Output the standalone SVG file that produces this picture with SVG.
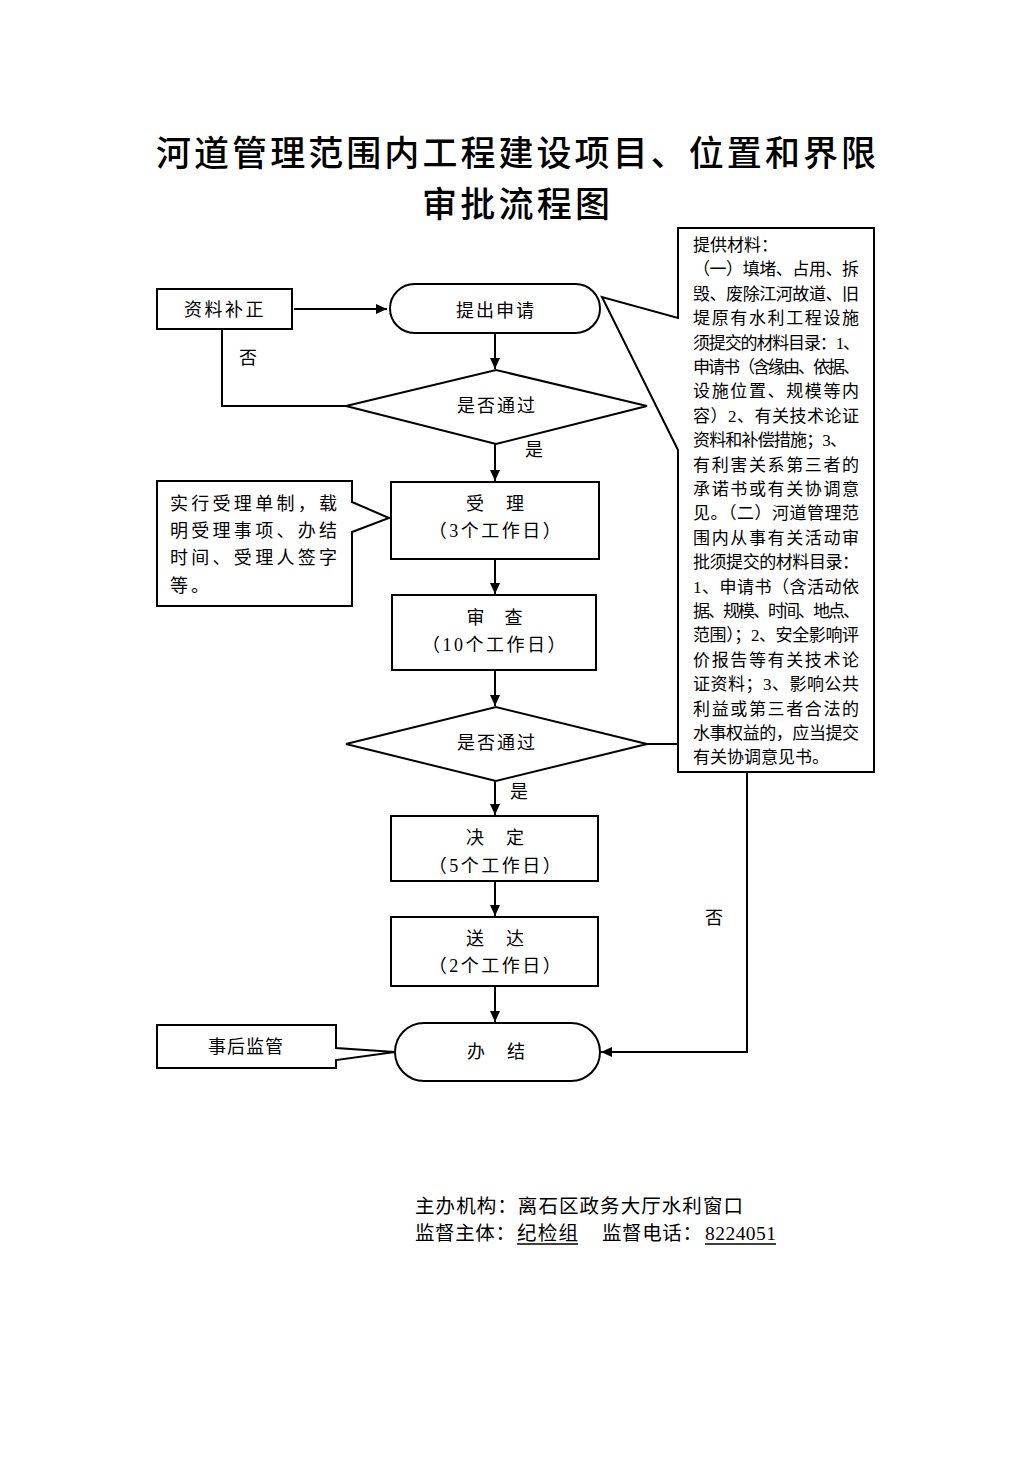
<svg xmlns="http://www.w3.org/2000/svg" width="1033" height="1461" viewBox="0 0 1033 1461">
<style>
.bg{fill:#fff}
.shape{fill:#fff;stroke:#000;stroke-width:2}
.conn{fill:none;stroke:#000;stroke-width:2}
.t{font-family:"Liberation Serif","Noto Sans CJK SC",serif;font-size:18px;fill:#000}
.c{text-anchor:middle}
.title{font-family:"Noto Sans CJK SC","Noto Sans",sans-serif;font-size:35px;font-weight:500;text-anchor:middle;fill:#000}
.m{font-family:"Liberation Serif","Noto Sans CJK SC",serif;font-size:17px;fill:#000}
.f{font-family:"Liberation Serif","Noto Sans CJK SC",serif;font-size:19.5px;fill:#000}
</style>
<defs>
<marker id="arr" markerUnits="userSpaceOnUse" markerWidth="12" markerHeight="10" refX="11" refY="5" orient="auto">
<path d="M0,0 L11,5 L0,10 Z" fill="#000"/>
</marker>
</defs>
<rect class="bg" x="0" y="0" width="1033" height="1461"/>
<g id="title">
<text class="title" x="516" y="166" textLength="720" lengthAdjust="spacing">河道管理范围内工程建设项目、位置和界限</text>
<text class="title" x="516" y="217" textLength="188" lengthAdjust="spacing">审批流程图</text>
</g>
<g id="connectors">
<path class="conn" d="M294,309 H387" marker-end="url(#arr)"/>
<path class="conn" d="M495,333 V369" marker-end="url(#arr)"/>
<path class="conn" d="M346,406 H222 V330"/>
<path class="conn" d="M495,444 V481" marker-end="url(#arr)"/>
<path class="conn" d="M495,559 V594" marker-end="url(#arr)"/>
<path class="conn" d="M495,670 V706" marker-end="url(#arr)"/>
<path class="conn" d="M495,781 V815" marker-end="url(#arr)"/>
<path class="conn" d="M495,881 V916" marker-end="url(#arr)"/>
<path class="conn" d="M495,986 V1022" marker-end="url(#arr)"/>
<path class="conn" d="M647,744 H747 V1052 H601" marker-end="url(#arr)"/>
<text class="t" x="248" y="364" text-anchor="middle">否</text>
<text class="t" x="534" y="456" text-anchor="middle">是</text>
<text class="t" x="519" y="798" text-anchor="middle">是</text>
<text class="t" x="714" y="924" text-anchor="middle">否</text>
</g>
<g id="node-correct">
<rect class="shape" x="157" y="289" width="135" height="40"/>
<text class="t c" x="225" y="316" letter-spacing="2.5">资料补正</text>
</g>
<g id="node-apply">
<rect class="shape" x="390" y="284" width="210" height="49" rx="24.5"/>
<text class="t c" x="496" y="317" letter-spacing="2">提出申请</text>
</g>
<g id="node-decision1">
<polygon class="shape" points="346,406 496,370 647,406 496,444"/>
<text class="t c" x="497" y="412" letter-spacing="2">是否通过</text>
</g>
<g id="node-note-accept">
<path class="shape" d="M157,481 H352 V502 L389,518 L352,532 V606 H157 Z"/>
<text class="t" x="170" y="510" font-size="19" textLength="167" lengthAdjust="spacing">实行受理单制，载</text>
<text class="t" x="170" y="537" font-size="19" textLength="167" lengthAdjust="spacing">明受理事项、办结</text>
<text class="t" x="170" y="564" font-size="19" textLength="167" lengthAdjust="spacing">时间、受理人签字</text>
<text class="t" x="170" y="592" font-size="19" letter-spacing="3">等。</text>
</g>
<g id="node-accept">
<rect class="shape" x="391" y="482" width="208" height="77"/>
<text class="t c" x="496" y="510" letter-spacing="2">受　理</text>
<text class="t c" x="496" y="537" letter-spacing="2.5">（3个工作日）</text>
</g>
<g id="node-review">
<rect class="shape" x="392" y="595" width="204" height="75"/>
<text class="t c" x="495" y="624" letter-spacing="1">审　查</text>
<text class="t c" x="495" y="651" letter-spacing="2.5">（10个工作日）</text>
</g>
<g id="node-decision2">
<polygon class="shape" points="346,744 496,707 647,744 496,781"/>
<text class="t c" x="497" y="749" letter-spacing="2">是否通过</text>
</g>
<g id="node-decide">
<rect class="shape" x="391" y="816" width="207" height="65"/>
<text class="t c" x="496" y="844" letter-spacing="2">决　定</text>
<text class="t c" x="496" y="872" letter-spacing="2.5">（5个工作日）</text>
</g>
<g id="node-deliver">
<rect class="shape" x="391" y="917" width="207" height="69"/>
<text class="t c" x="496" y="945" letter-spacing="2">送　达</text>
<text class="t c" x="496" y="972" letter-spacing="2.5">（2个工作日）</text>
</g>
<g id="node-supervise">
<path class="shape" d="M157,1025 H336 V1048 L395,1052 L336,1060 V1068 H157 Z"/>
<text class="t c" x="246" y="1053" letter-spacing="1">事后监管</text>
</g>
<g id="node-finish">
<rect class="shape" x="395" y="1023" width="205" height="58" rx="29"/>
<text class="t c" x="497" y="1058" letter-spacing="2">办　结</text>
</g>
<g id="node-materials">
<path class="shape" d="M678,228 H874 V772 H678 V450 L602,297 L678,318 Z"/>
<text class="m" x="693" y="251">提供材料：</text>
<text class="m" x="693" y="275" textLength="166" lengthAdjust="spacing">（一）填堵、占用、拆</text>
<text class="m" x="693" y="300" textLength="166" lengthAdjust="spacing">毁、废除江河故道、旧</text>
<text class="m" x="693" y="324" textLength="166" lengthAdjust="spacing">堤原有水利工程设施</text>
<text class="m" x="693" y="349" textLength="167" lengthAdjust="spacing">须提交的材料目录：1、</text>
<text class="m" x="693" y="373" textLength="167" lengthAdjust="spacing">申请书（含缘由、依据、</text>
<text class="m" x="693" y="397" textLength="166" lengthAdjust="spacing">设施位置、规模等内</text>
<text class="m" x="693" y="422" textLength="166" lengthAdjust="spacing">容）2、有关技术论证</text>
<text class="m" x="693" y="446" textLength="154" lengthAdjust="spacing">资料和补偿措施；3、</text>
<text class="m" x="693" y="471" textLength="166" lengthAdjust="spacing">有利害关系第三者的</text>
<text class="m" x="693" y="495" textLength="166" lengthAdjust="spacing">承诺书或有关协调意</text>
<text class="m" x="693" y="519" textLength="166" lengthAdjust="spacing">见。（二）河道管理范</text>
<text class="m" x="693" y="544" textLength="166" lengthAdjust="spacing">围内从事有关活动审</text>
<text class="m" x="693" y="568" textLength="166" lengthAdjust="spacing">批须提交的材料目录：</text>
<text class="m" x="693" y="593" textLength="166" lengthAdjust="spacing">1、申请书（含活动依</text>
<text class="m" x="693" y="617" textLength="167" lengthAdjust="spacing">据、规模、时间、地点、</text>
<text class="m" x="693" y="641" textLength="166" lengthAdjust="spacing">范围）；2、安全影响评</text>
<text class="m" x="693" y="666" textLength="166" lengthAdjust="spacing">价报告等有关技术论</text>
<text class="m" x="693" y="690" textLength="166" lengthAdjust="spacing">证资料；3、影响公共</text>
<text class="m" x="693" y="715" textLength="166" lengthAdjust="spacing">利益或第三者合法的</text>
<text class="m" x="693" y="739" textLength="166" lengthAdjust="spacing">水事权益的，应当提交</text>
<text class="m" x="693" y="763">有关协调意见书。</text>
</g>
<g id="footer">
<text class="f" x="415" y="1213" textLength="328" lengthAdjust="spacing">主办机构：离石区政务大厅水利窗口</text>
<text class="f" x="415" y="1240" textLength="100" lengthAdjust="spacing">监督主体：</text>
<text class="f" x="517" y="1240" textLength="61" lengthAdjust="spacing">纪检组</text>
<text class="f" x="602" y="1240" textLength="100" lengthAdjust="spacing">监督电话：</text>
<text class="f" x="705" y="1240" textLength="71" lengthAdjust="spacing">8224051</text>
<line x1="517" y1="1244" x2="578" y2="1244" stroke="#000" stroke-width="1.3"/>
<line x1="705" y1="1244" x2="776" y2="1244" stroke="#000" stroke-width="1.3"/>
</g>
</svg>
